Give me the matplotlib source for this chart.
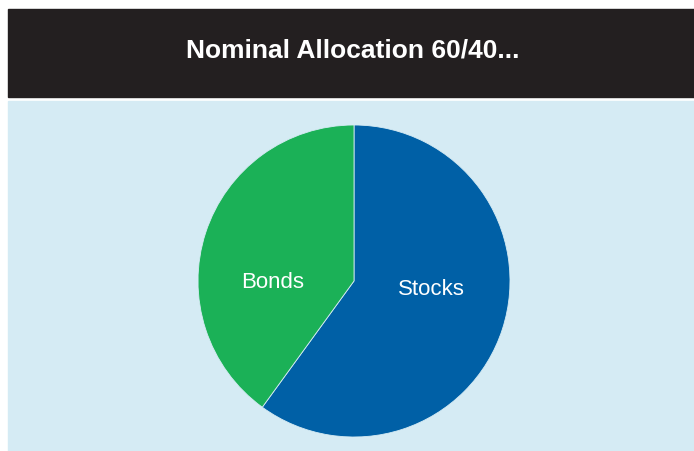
import matplotlib
matplotlib.use('Agg')
import matplotlib.pyplot as plt
from matplotlib.patches import Rectangle

plt.rcParams['font.family'] = ['Liberation Sans', 'DejaVu Sans']

labels = ['Stocks', 'Bonds']
values = [60, 40]
slice_colors = ['#0060a6', '#1bb157']
# label anchors (fraction of radius, baseline)
label_pos = [(0.497, -0.09), (-0.519, -0.045)]

W, H = 694, 451
fig = plt.figure(figsize=(W / 100, H / 100), dpi=100)
fig.patch.set_facecolor('white')

# title bar and panel (pixel coords -> figure fraction)
def box(x0, y0, x1, y1, col):
    fig.patches.append(Rectangle((x0 / W, 1 - y1 / H), (x1 - x0) / W, (y1 - y0) / H,
                                 transform=fig.transFigure, color=col, zorder=-5))

box(8, 9, 694, 97, '#231f20')
box(8, 101, 694, 451, '#d5ebf4')
fig.text(353 / W, 1 - 50 / H, 'Nominal Allocation 60/40...', color='white',
         fontsize=19, fontweight='bold', ha='center', va='center')

# pie axes: center (354, 281), radius 156 px
cx, cy, r = 354, 281, 156
ax = fig.add_axes([(cx - r) / W, 1 - (cy + r) / H, 2 * r / W, 2 * r / H])
ax.set_facecolor('none')
ax.set_zorder(5)
wedges, texts = ax.pie(values, labels=labels, colors=slice_colors, startangle=90,
                       counterclock=False, labeldistance=0.5,
                       wedgeprops=dict(edgecolor='#d5ebf4', linewidth=0.6),
                       textprops=dict(color='white', fontsize=16))
for t, p in zip(texts, label_pos):
    t.set_position(p)
    t.set_ha('center')
    t.set_va('baseline')
ax.set_xlim(-1, 1)
ax.set_ylim(-1, 1)
ax.set_aspect('equal')
ax.axis('off')

fig.savefig('out.png', dpi=100)
